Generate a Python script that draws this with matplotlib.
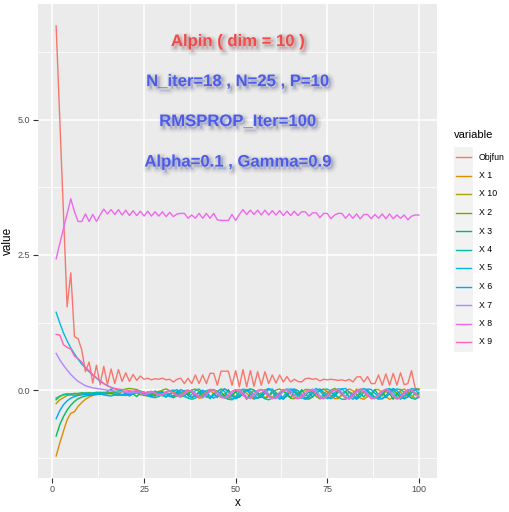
import matplotlib
matplotlib.use("Agg")
import matplotlib.pyplot as plt
import matplotlib.patheffects as pe
from matplotlib.lines import Line2D
from matplotlib.patches import Rectangle
from matplotlib.ticker import MultipleLocator

plt.rcParams['font.family'] = ['Liberation Sans', 'DejaVu Sans']

x = list(range(1, 101))

objfun = [6.74, 5.00, 3.27, 1.54, 2.17, 0.99, 0.95, 0.74, 0.34, 0.52,
          0.13, 0.46, 0.10, 0.44, 0.10, 0.39, 0.12, 0.38, 0.16, 0.32,
          0.16, 0.29, 0.18, 0.26, 0.20, 0.22, 0.19, 0.21, 0.20, 0.22,
          0.19, 0.20, 0.15, 0.20, 0.22, 0.12, 0.22, 0.12, 0.28, 0.12,
          0.28, 0.12, 0.31, 0.31, 0.09, 0.35, 0.35, 0.35, 0.09, 0.36,
          0.06, 0.38, 0.06, 0.36, 0.07, 0.34, 0.09, 0.34, 0.12, 0.28,
          0.13, 0.28, 0.15, 0.25, 0.15, 0.20, 0.16, 0.15, 0.21, 0.22,
          0.20, 0.21, 0.17, 0.20, 0.19, 0.20, 0.19, 0.18, 0.19, 0.17,
          0.20, 0.15, 0.24, 0.25, 0.15, 0.25, 0.12, 0.12, 0.28, 0.09,
          0.30, 0.09, 0.31, 0.09, 0.32, 0.10, 0.12, 0.36, 0.03, 0.02]

x1 = [-1.22, -0.98, -0.76, -0.55, -0.43, -0.40, -0.30, -0.23, -0.17, -0.13,
      -0.10, -0.08, -0.07, -0.06, -0.05, -0.05, -0.06, -0.08, -0.09, -0.08,
      -0.06, -0.04, -0.05, -0.08, -0.10, -0.11, -0.09, -0.05, -0.02, -0.03,
      -0.07, -0.12, -0.14, -0.11, -0.05, -0.01, 0.00, -0.04, -0.10, -0.15,
      -0.14, -0.08, -0.02, 0.01, -0.02, -0.09, -0.15, -0.16, -0.11, -0.04,
      0.01, 0.00, -0.06, -0.13, -0.17, -0.14, -0.07, -0.01, 0.02, -0.02,
      -0.09, -0.15, -0.16, -0.10, -0.03, 0.01, -0.01, -0.08, -0.14, -0.17,
      -0.13, -0.06, 0.00, 0.02, -0.03, -0.10, -0.16, -0.15, -0.09, -0.02,
      0.02, -0.01, -0.08, -0.15, -0.17, -0.12, -0.05, 0.01, 0.01, -0.05,
      -0.12, -0.17, -0.14, -0.07, -0.01, 0.02, -0.03, -0.10, -0.15, -0.13]

x10 = [-0.25, -0.18, -0.14, -0.10, -0.09, -0.10, -0.08, -0.07, -0.08, -0.06,
       -0.07, -0.06, -0.05, -0.06, -0.05, -0.07, -0.03, -0.08, -0.02, -0.06,
       -0.01, -0.07, -0.02, -0.09, -0.03, -0.10, -0.04, -0.12, -0.05, -0.11,
       -0.03, -0.09, -0.01, -0.08, -0.02, -0.11, -0.05, -0.14, -0.06, -0.12,
       -0.03, -0.08, 0.00, -0.07, -0.02, -0.12, -0.06, -0.15, -0.07, -0.13,
       -0.04, -0.09, 0.01, -0.06, -0.01, -0.10, -0.05, -0.15, -0.08, -0.14,
       -0.05, -0.10, 0.00, -0.07, -0.01, -0.11, -0.04, -0.15, -0.07, -0.13,
       -0.03, -0.08, 0.01, -0.06, -0.02, -0.12, -0.06, -0.16, -0.08, -0.12,
       -0.03, -0.07, 0.02, -0.06, -0.02, -0.12, -0.05, -0.15, -0.07, -0.11,
       -0.02, -0.08, 0.01, -0.07, -0.03, -0.13, -0.06, -0.15, -0.05, -0.09]

x2 = [-0.18, -0.12, -0.08, -0.07, -0.08, -0.06, -0.07, -0.05, -0.06, -0.05,
      -0.06, -0.04, -0.05, -0.04, -0.05, -0.04, -0.03, -0.02, 0.00, 0.02,
      0.03, 0.02, 0.01, -0.02, -0.05, -0.08, -0.10, -0.08, -0.04, 0.00,
      0.02, -0.01, -0.06, -0.11, -0.13, -0.10, -0.05, 0.00, 0.02, -0.02,
      -0.08, -0.13, -0.14, -0.09, -0.03, 0.01, 0.02, -0.03, -0.10, -0.15,
      -0.13, -0.07, -0.01, 0.02, 0.00, -0.06, -0.12, -0.16, -0.12, -0.05,
      0.00, 0.02, -0.02, -0.09, -0.15, -0.16, -0.10, -0.03, 0.01, 0.01,
      -0.05, -0.12, -0.16, -0.13, -0.06, 0.00, 0.03, 0.00, -0.07, -0.14,
      -0.16, -0.11, -0.04, 0.01, 0.02, -0.03, -0.10, -0.15, -0.14, -0.08,
      -0.01, 0.02, 0.00, -0.06, -0.13, -0.16, -0.12, -0.05, 0.01, 0.02]

x3 = [-0.85, -0.64, -0.49, -0.37, -0.28, -0.21, -0.16, -0.13, -0.11, -0.10,
      -0.09, -0.08, -0.08, -0.07, -0.07, -0.06, -0.09, -0.05, -0.10, -0.06,
      -0.11, -0.07, -0.12, -0.05, -0.10, -0.03, -0.09, -0.02, -0.11, -0.04,
      -0.13, -0.06, -0.14, -0.05, -0.12, -0.02, -0.10, 0.00, -0.11, -0.03,
      -0.14, -0.05, -0.16, -0.06, -0.14, -0.03, -0.12, 0.01, -0.10, -0.02,
      -0.13, -0.05, -0.17, -0.07, -0.15, -0.04, -0.12, 0.00, -0.11, -0.02,
      -0.14, -0.06, -0.17, -0.07, -0.14, -0.03, -0.11, 0.01, -0.10, -0.03,
      -0.13, -0.05, -0.16, -0.08, -0.15, -0.04, -0.12, 0.02, -0.09, -0.02,
      -0.13, -0.06, -0.16, -0.06, -0.13, -0.02, -0.11, 0.01, -0.10, -0.03,
      -0.14, -0.06, -0.17, -0.07, -0.14, -0.03, -0.11, 0.01, -0.09, -0.04]

x4 = [-0.15, -0.11, -0.09, -0.08, -0.07, -0.07, -0.06, -0.06, -0.05, -0.06,
      -0.05, -0.05, -0.04, -0.06, -0.03, 0.02, -0.04, -0.07, -0.09, -0.10,
      -0.09, -0.07, -0.05, -0.06, -0.08, -0.11, -0.13, -0.14, -0.12, -0.08,
      -0.04, -0.01, 0.00, -0.02, -0.06, -0.11, -0.15, -0.17, -0.15, -0.10,
      -0.05, -0.01, 0.01, 0.00, -0.04, -0.09, -0.14, -0.17, -0.18, -0.14,
      -0.09, -0.04, 0.00, 0.02, 0.00, -0.05, -0.11, -0.16, -0.18, -0.15,
      -0.10, -0.05, -0.01, 0.02, 0.01, -0.03, -0.09, -0.14, -0.17, -0.16,
      -0.12, -0.06, -0.01, 0.01, 0.02, -0.02, -0.08, -0.13, -0.17, -0.17,
      -0.13, -0.07, -0.02, 0.01, 0.02, -0.01, -0.07, -0.13, -0.17, -0.16,
      -0.12, -0.06, -0.01, 0.02, 0.01, -0.04, -0.10, -0.15, -0.17, -0.13]

x5 = [1.44, 1.24, 1.06, 0.91, 0.78, 0.67, 0.57, 0.48, 0.41, 0.34,
      0.28, 0.22, 0.17, 0.12, 0.08, 0.05, 0.02, 0.00, -0.02, -0.04,
      -0.05, -0.04, -0.03, -0.05, -0.07, -0.09, -0.06, -0.02, -0.04, -0.10,
      -0.13, -0.08, -0.02, 0.01, -0.05, -0.12, -0.14, -0.08, -0.01, 0.02,
      -0.04, -0.11, -0.15, -0.10, -0.02, 0.02, -0.03, -0.11, -0.16, -0.12,
      -0.04, 0.02, 0.00, -0.08, -0.15, -0.15, -0.08, 0.00, 0.03, -0.03,
      -0.11, -0.17, -0.12, -0.04, 0.02, 0.01, -0.07, -0.14, -0.16, -0.09,
      -0.01, 0.03, -0.02, -0.10, -0.16, -0.13, -0.05, 0.02, 0.02, -0.05,
      -0.13, -0.17, -0.11, -0.03, 0.03, 0.00, -0.08, -0.15, -0.15, -0.07,
      0.01, 0.03, -0.04, -0.12, -0.17, -0.11, -0.03, 0.03, 0.01, -0.07]

x6 = [-0.53, -0.38, -0.27, -0.20, -0.15, -0.12, -0.10, -0.09, -0.08, -0.08,
      -0.07, -0.08, -0.07, -0.09, -0.10, -0.11, -0.09, -0.10, -0.08, -0.07,
      -0.09, -0.06, -0.04, -0.02, -0.05, -0.08, -0.12, -0.10, -0.06, -0.03,
      -0.07, -0.12, -0.10, -0.04, 0.01, -0.02, -0.09, -0.14, -0.11, -0.05,
      0.00, -0.04, -0.11, -0.15, -0.10, -0.03, 0.02, -0.02, -0.10, -0.16,
      -0.12, -0.05, 0.01, -0.02, -0.09, -0.15, -0.13, -0.06, 0.01, 0.02,
      -0.05, -0.12, -0.16, -0.11, -0.03, 0.02, -0.01, -0.09, -0.15, -0.13,
      -0.06, 0.00, 0.02, -0.04, -0.11, -0.16, -0.12, -0.04, 0.02, 0.03,
      -0.04, -0.12, -0.17, -0.12, -0.04, 0.02, 0.01, -0.06, -0.13, -0.16,
      -0.10, -0.02, 0.03, -0.01, -0.09, -0.16, -0.13, -0.05, 0.02, 0.00]

x7 = [0.68, 0.56, 0.46, 0.37, 0.29, 0.22, 0.16, 0.12, 0.08, 0.06,
      0.04, 0.03, 0.02, 0.01, 0.00, -0.01, -0.02, -0.03, -0.03, -0.04,
      -0.05, -0.05, -0.04, -0.06, -0.08, -0.07, -0.04, -0.06, -0.10, -0.09,
      -0.05, -0.02, -0.06, -0.11, -0.12, -0.07, -0.02, -0.01, -0.06, -0.12,
      -0.14, -0.09, -0.03, 0.00, -0.04, -0.11, -0.15, -0.12, -0.05, 0.00,
      0.01, -0.05, -0.12, -0.16, -0.11, -0.04, 0.01, 0.00, -0.07, -0.14,
      -0.16, -0.10, -0.03, 0.02, -0.01, -0.08, -0.15, -0.15, -0.08, -0.01,
      0.02, -0.02, -0.10, -0.16, -0.13, -0.06, 0.00, 0.02, -0.04, -0.12,
      -0.17, -0.12, -0.04, 0.01, 0.01, -0.06, -0.13, -0.16, -0.10, -0.03,
      0.02, -0.01, -0.09, -0.15, -0.14, -0.07, 0.00, 0.01, -0.05, -0.12]

x8 = [2.43, 2.71, 2.99, 3.26, 3.54, 3.30, 3.12, 3.12, 3.26, 3.12,
      3.25, 3.12, 3.24, 3.35, 3.26, 3.34, 3.25, 3.34, 3.24, 3.33,
      3.23, 3.32, 3.23, 3.31, 3.22, 3.31, 3.22, 3.30, 3.22, 3.30,
      3.21, 3.29, 3.21, 3.26, 3.27, 3.27, 3.18, 3.24, 3.18, 3.27,
      3.18, 3.27, 3.18, 3.27, 3.15, 3.14, 3.14, 3.14, 3.25, 3.14,
      3.25, 3.34, 3.25, 3.33, 3.25, 3.33, 3.24, 3.33, 3.24, 3.32,
      3.24, 3.32, 3.23, 3.31, 3.23, 3.31, 3.23, 3.30, 3.30, 3.22,
      3.28, 3.28, 3.19, 3.27, 3.27, 3.17, 3.24, 3.27, 3.27, 3.18,
      3.26, 3.18, 3.26, 3.17, 3.25, 3.25, 3.17, 3.25, 3.18, 3.26,
      3.17, 3.26, 3.17, 3.24, 3.18, 3.24, 3.15, 3.22, 3.24, 3.24]

x9 = [1.03, 1.02, 0.84, 0.79, 0.76, 0.63, 0.58, 0.52, 0.42, 0.36,
      0.28, 0.23, 0.17, 0.12, 0.08, 0.05, 0.03, 0.02, 0.01, 0.00,
      -0.01, -0.02, -0.01, -0.03, -0.05, -0.04, -0.02, -0.05, -0.08, -0.07,
      -0.03, -0.01, -0.05, -0.10, -0.09, -0.04, 0.00, -0.03, -0.09, -0.13,
      -0.10, -0.04, 0.01, -0.01, -0.08, -0.14, -0.14, -0.08, -0.02, 0.01,
      -0.03, -0.10, -0.15, -0.13, -0.06, 0.00, 0.01, -0.05, -0.12, -0.16,
      -0.12, -0.04, 0.01, 0.00, -0.07, -0.14, -0.16, -0.10, -0.03, 0.01,
      -0.01, -0.08, -0.15, -0.15, -0.09, -0.02, 0.01, -0.02, -0.09, -0.15,
      -0.14, -0.07, -0.01, 0.02, -0.03, -0.10, -0.16, -0.14, -0.07, -0.01,
      0.01, -0.04, -0.11, -0.17, -0.13, -0.05, 0.01, 0.00, -0.07, -0.14]

names = ["Objfun", "X 1", "X 10", "X 2", "X 3", "X 4", "X 5", "X 6", "X 7", "X 8", "X 9"]
series = [objfun, x1, x10, x2, x3, x4, x5, x6, x7, x8, x9]
colors = ["#F8766D", "#DB8E00", "#AEA200", "#64B200", "#00BD5C", "#00C1A7",
          "#00BADE", "#00A6FF", "#B385FF", "#EF67EB", "#FF63B6"]

W, H = 510, 512
fig = plt.figure(figsize=(W / 100, H / 100), dpi=100)
ax = fig.add_axes([38 / W, 1 - 477.5 / H, (437 - 38) / W, (477.5 - 4.4) / H])
ax.set_facecolor("#EBEBEB")
for s in ax.spines.values():
    s.set_visible(False)

for vals, col in zip(series, colors):
    ax.plot(x, vals, color=col, lw=1.0, solid_joinstyle="round")

ax.margins(x=0.05, y=0.05)
ax.xaxis.set_major_locator(MultipleLocator(25))
ax.xaxis.set_minor_locator(MultipleLocator(12.5))
ax.yaxis.set_major_locator(MultipleLocator(2.5))
ax.yaxis.set_minor_locator(MultipleLocator(1.25))
ax.set_yticks([0, 2.5, 5.0])
ax.set_yticklabels(["0.0", "2.5", "5.0"])
ax.grid(which="major", color="white", lw=1.1)
ax.grid(which="minor", color="white", lw=0.55)
ax.set_axisbelow(True)
ax.tick_params(which="major", length=3.5, width=0.8, color="#333333",
               labelsize=6.5, labelcolor="#4D4D4D", pad=2)
ax.tick_params(which="minor", length=0)
ax.set_xlabel("x", fontsize=8.5, labelpad=2)
ax.set_ylabel("value", fontsize=8.5, labelpad=3)

# annotation block with soft drop shadow
shadow = [pe.Stroke(offset=(1.8, -1.8), linewidth=w, foreground="#808080", alpha=a)
          for w, a in [(6, 0.06), (4, 0.09), (2, 0.14)]] + [pe.Normal()]
labels = [("Alpin ( dim = 10 )", "#F24A4A", 6.45),
          ("N_iter=18 , N=25 , P=10", "#4D5BEA", 5.71),
          ("RMSPROP_Iter=100", "#4D5BEA", 4.97),
          ("Alpha=0.1 , Gamma=0.9", "#4D5BEA", 4.22)]
for txt, col, yy in labels:
    ax.text(50.5, yy, txt, color=col, fontsize=12, fontweight="bold",
            ha="center", va="center", path_effects=shadow)

# legend
fig.text(454 / W, 1 - 135.5 / H, "variable", fontsize=8, va="center", ha="left")
fig.add_artist(Rectangle((454 / W, 1 - 352 / H), 19.5 / W, 205 / H,
                         transform=fig.transFigure, facecolor="#F2F2F2",
                         edgecolor="none"))
for i, (nm, col) in enumerate(zip(names, colors)):
    yy = 1 - (157 + 18.5 * i) / H
    fig.add_artist(Line2D([456 / W, 471.5 / W], [yy, yy], transform=fig.transFigure,
                          color=col, lw=1.0))
    fig.text(479 / W, yy, nm, fontsize=6.3, va="center", ha="left")

fig.savefig("out.png", dpi=100)
